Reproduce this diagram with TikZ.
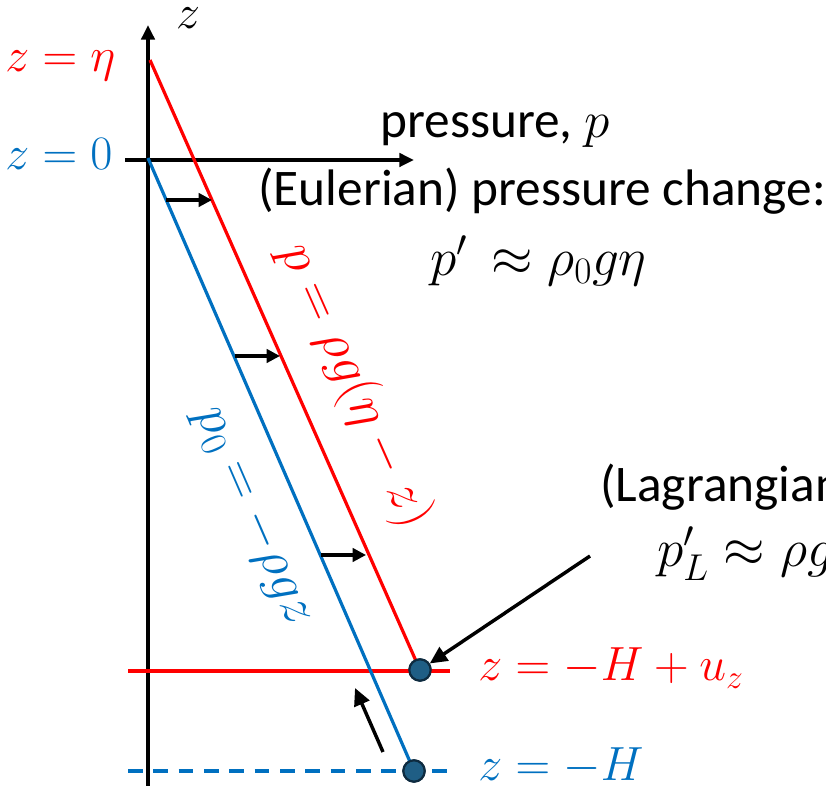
\RequirePackage{fix-cm}
\documentclass[tikz,border=0pt]{standalone}
\usepackage{amsmath}
\usepackage{fontspec}
\setmainfont{Carlito}
\usetikzlibrary{arrows.meta}
\definecolor{pred}{HTML}{FF0000}
\definecolor{pblue}{HTML}{0070C0}
\definecolor{dotfill}{HTML}{1F5E85}
\definecolor{dotline}{HTML}{0E2B40}
\begin{document}
\begin{tikzpicture}[x=0.75pt,y=0.75pt,
  txt/.style={font=\fontsize{38.5}{44}\selectfont, inner sep=0pt},
  mth/.style={font=\fontsize{36}{40}\selectfont, inner sep=0pt},
  bigmth/.style={font=\fontsize{40}{44}\selectfont, inner sep=0pt},
  axisline/.style={line width=2.6pt, -{Triangle[length=11pt,width=10pt]}},
  redline/.style={pred, line width=2.4pt},
  blueline/.style={pblue, line width=2.4pt},
  smallarrow/.style={line width=2.4pt, -{Triangle[length=10pt,width=10pt]}},
  bigarrow/.style={line width=2.6pt, -{Triangle[length=13pt,width=12pt]}},
  dot/.style={circle, minimum size=16pt, inner sep=0pt, fill=dotfill, draw=dotline, line width=1.6pt}]
\useasboundingbox (0,0) rectangle (826,790);
\clip (0,0) rectangle (826,790);

% axes
\coordinate (axb) at (148,4);
\coordinate (axt) at (148,765);
\coordinate (hx0) at (125,630);
\coordinate (hx1) at (414,630);
\draw[axisline] (axb) -- (axt);
\draw[axisline] (hx0) -- (hx1);

% profile end points
\coordinate (rtop) at (150,730);
\coordinate (btop) at (148,632);
\node[dot] (cr) at (420,120) {};
\node[dot] (cb) at (414,19) {};

% level lines
\coordinate (rl0) at (128,119);
\coordinate (rl1) at (450,119);
\coordinate (bl0) at (128,19);
\coordinate (bl1) at (450,19);
\draw[redline, line width=3pt] (rl0) -- (rl1);
\draw[blueline, line width=3pt, dash pattern=on 11pt off 8pt] (bl0) -- (bl1);

% profiles
\draw[blueline] (btop) -- (cb.center);
\draw[redline] (rtop) -- (cr.center);
\node[dot] at (cr) {};
\node[dot] at (cb) {};

% small shift arrows
\coordinate (a1s) at (166,590); \coordinate (a1e) at (212,590);
\coordinate (a2s) at (235,434); \coordinate (a2e) at (280,434);
\coordinate (a3s) at (321,235); \coordinate (a3e) at (366,235);
\draw[smallarrow] (a1s) -- (a1e);
\draw[smallarrow] (a2s) -- (a2e);
\draw[smallarrow] (a3s) -- (a3e);

% displacement arrow
\coordinate (ups) at (383,38);
\coordinate (upe) at (355,102);
\draw[bigarrow] (ups) -- (upe);

% Lagrangian pointer
\coordinate (lags) at (590,234);
\draw[bigarrow] (lags) -- (cr);

% labels
\node[mth, anchor=center] (zlab) at (188,772) {$z$};
\node[mth, anchor=base west, text=pred] (zeta) at (5,718) {$z=\eta$};
\node[mth, anchor=base west, text=pblue] (zzero) at (5,620) {$z=0$};
\node[txt, anchor=base west] (plab) at (380,652) {pressure, $p$};
\node[txt, anchor=base west] (eul) at (258,584) {(Eulerian) pressure change:};
\node[bigmth, anchor=base west] (eulf) at (430,514) {$p'\,\approx\rho_0 g\eta$};
\node[txt, anchor=base west] (lag) at (600,288) {(Lagrangian) pressure change:};
\node[bigmth, anchor=base west] (lagf) at (657,223) {$p'_L\approx\rho g\,u_z$};
\node[mth, anchor=base west, text=pred] (zhu) at (478,109) {$z=-H+u_z$};
\node[mth, anchor=base west, text=pblue] (zh) at (478,9) {$z=-H$};

% profile labels
\node[bigmth, text=pred, rotate=-66.1] (rlab) at (355,404) {$p=\rho g(\eta-z)$};
\node[bigmth, text=pblue, rotate=-66.5] (blab) at (253,273) {$p_0=-\rho g z$};
\end{tikzpicture}
\end{document}
